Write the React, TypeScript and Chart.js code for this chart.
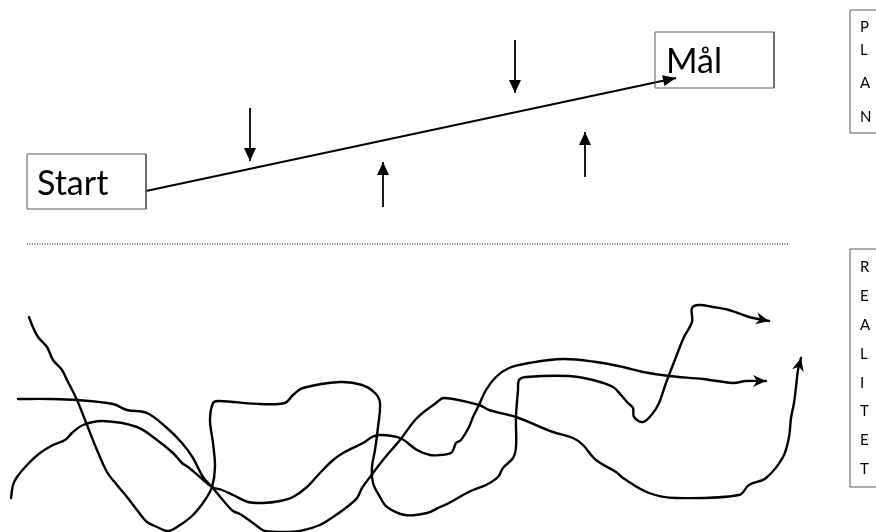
import React, { useEffect, useRef } from "react";
import { Chart, registerables } from "chart.js";

Chart.register(...registerables);

const W = 876;
const H = 532;

// ---- data (diagram coordinates in a 876 x 532 space, y downward) ----
const planLine = [[146, 191], [676, 78]];
const arrowDown1 = [[250, 108], [250, 161]];
const arrowUp1 = [[383, 207], [383, 162]];
const arrowDown2 = [[515, 40], [515, 93]];
const arrowUp2 = [[585, 177], [585, 132]];

const dividerLine = [[27, 244], [789, 244]];

const boxStart = [[27, 154], [146, 154], [146, 209], [27, 209], [27, 154]];
const boxGoal = [[655, 32], [774, 32], [774, 88], [655, 88], [655, 32]];
const boxPlan = [[850, 10], [880, 10], [880, 133], [850, 133], [850, 10]];
const boxReality = [[850, 249], [880, 249], [880, 487], [850, 487], [850, 249]];

const curveA = [
  [29, 317], [32, 325], [38, 337], [47, 347], [53, 360], [62, 370], [67, 380], [77, 400],
  [87, 425], [97, 450], [107, 472], [117, 485], [127, 497], [137, 510], [147, 522], [157, 527],
  [168, 531], [180, 525], [193, 515], [205, 500], [212, 487], [215, 467], [213, 443], [210, 420],
  [213, 403], [218, 401], [233, 402], [260, 404], [285, 403], [293, 395], [303, 388], [340, 382],
  [362, 385], [375, 393], [380, 403], [378, 427], [375, 450], [372, 467], [373, 483], [380, 497],
  [387, 507], [405, 515], [427, 513], [440, 507], [449, 503], [463, 495], [473, 490], [486, 485],
  [498, 477], [503, 468], [513, 458], [516, 447], [516, 417], [518, 390], [519, 380], [526, 377],
  [569, 376], [593, 380], [613, 387], [621, 395], [628, 403], [633, 408], [634, 417], [643, 422],
  [653, 413], [659, 403], [666, 383], [676, 357], [684, 337], [692, 322], [692, 308], [699, 305],
  [713, 307], [729, 310], [749, 317], [769, 321],
];

const curveB = [
  [18, 399], [50, 399], [77, 400], [113, 404], [127, 410], [147, 413], [167, 428], [182, 443],
  [193, 458], [203, 477], [212, 487], [222, 499], [233, 511], [240, 514], [253, 523], [265, 531],
  [283, 532], [300, 531], [320, 525], [333, 517], [347, 507], [357, 498], [362, 488], [370, 477],
  [383, 460], [400, 440], [417, 418], [436, 403], [444, 398], [479, 405], [489, 410], [516, 417],
  [553, 432], [573, 438], [583, 445], [596, 460], [616, 472], [623, 478], [649, 493], [676, 498],
  [739, 495], [749, 485], [766, 478], [783, 457], [789, 437], [791, 418], [794, 403], [796, 387],
  [798, 370], [801, 358],
];

const curveC = [
  [11, 498], [13, 485], [17, 477], [27, 465], [40, 453], [53, 445], [65, 440], [72, 433],
  [83, 425], [103, 421], [137, 427], [157, 440], [173, 453], [182, 463], [188, 467], [200, 477],
  [212, 487], [222, 490], [233, 495], [248, 502], [263, 503], [280, 501], [293, 497], [307, 487],
  [320, 473], [332, 461], [343, 453], [363, 443], [372, 437], [380, 435], [400, 438], [417, 450],
  [430, 455], [440, 455], [451, 453], [454, 448], [456, 443], [461, 440], [469, 427], [473, 417],
  [478, 407], [486, 390], [496, 377], [509, 368], [529, 363], [563, 359], [596, 362], [623, 367],
  [643, 372], [669, 376], [703, 379], [733, 383], [746, 381], [766, 381],
];

const bigLabels = ["Start", "Mål"];
const bigLabelPos = [[37, 195], [666, 73]];
const planLetters = ["P", "L", "A", "N"];
const planLetterY = [32, 55, 88, 122];
const realityLetters = ["R", "E", "A", "L", "I", "T", "E", "T"];
const realityLetterY = [272, 301, 330, 359, 388, 416, 445, 474];
const sideLetterX = 860;

const toPts = (a: number[][]) => a.map(([x, y]) => ({ x, y }));

const arrowPlugin = {
  id: "arrowHeads",
  afterDatasetsDraw(chart: any) {
    const ctx = chart.ctx;
    chart.data.datasets.forEach((ds: any, i: number) => {
      if (!ds.arrow) return;
      const meta = chart.getDatasetMeta(i);
      const n = meta.data.length;
      if (n < 2) return;
      const p1 = meta.data[n - 2];
      const p2 = meta.data[n - 1];
      const ang = Math.atan2(p2.y - p1.y, p2.x - p1.x);
      const { len, half, notch } = ds.arrow;
      ctx.save();
      ctx.translate(p2.x, p2.y);
      ctx.rotate(ang);
      ctx.beginPath();
      ctx.moveTo(0, 0);
      ctx.lineTo(-len, -half);
      ctx.lineTo(-len + notch, 0);
      ctx.lineTo(-len, half);
      ctx.closePath();
      ctx.fillStyle = "#000";
      ctx.fill();
      ctx.restore();
    });
  },
};

const textPlugin = {
  id: "diagramText",
  afterDatasetsDraw(chart: any) {
    const ctx = chart.ctx;
    const sx = chart.scales.x;
    const sy = chart.scales.y;
    ctx.save();
    ctx.fillStyle = "#000";
    ctx.textBaseline = "alphabetic";
    ctx.textAlign = "left";
    ctx.font = "34px Lato";
    bigLabels.forEach((t, i) => {
      ctx.fillText(t, sx.getPixelForValue(bigLabelPos[i][0]), sy.getPixelForValue(bigLabelPos[i][1]));
    });
    ctx.font = "15px Lato";
    planLetters.forEach((t, i) => {
      ctx.fillText(t, sx.getPixelForValue(sideLetterX), sy.getPixelForValue(planLetterY[i]));
    });
    realityLetters.forEach((t, i) => {
      ctx.fillText(t, sx.getPixelForValue(sideLetterX), sy.getPixelForValue(realityLetterY[i]));
    });
    ctx.restore();
  },
};

export default function App() {
  const ref = useRef<HTMLCanvasElement>(null);

  useEffect(() => {
    if (!ref.current) return;
    const curve = (d: number[][]) => ({
      data: toPts(d),
      showLine: true,
      borderColor: "#000",
      borderWidth: 2.4,
      tension: 0.35,
      pointRadius: 0,
      borderCapStyle: "round",
      borderJoinStyle: "round",
      arrow: { len: 13, half: 6, notch: 4 },
    });
    const straight = (d: number[][], width: number, arrow: any) => ({
      data: toPts(d),
      showLine: true,
      borderColor: "#000",
      borderWidth: width,
      tension: 0,
      pointRadius: 0,
      arrow,
    });
    const box = (d: number[][]) => ({
      data: toPts(d),
      showLine: true,
      borderColor: "#595959",
      borderWidth: 1,
      tension: 0,
      pointRadius: 0,
    });
    const vArrow = { len: 13, half: 6, notch: 0 };

    const chart = new Chart(ref.current, {
      type: "scatter",
      data: {
        datasets: [
          box(boxStart),
          box(boxGoal),
          box(boxPlan),
          box(boxReality),
          straight(planLine, 1.8, { len: 13, half: 5.5, notch: 0 }),
          straight(arrowDown1, 1.8, vArrow),
          straight(arrowUp1, 1.8, vArrow),
          straight(arrowDown2, 1.8, vArrow),
          straight(arrowUp2, 1.8, vArrow),
          { ...straight(dividerLine, 1, null), borderDash: [1, 1.5], borderColor: "#000" },
          curve(curveA),
          curve(curveB),
          curve(curveC),
        ] as any,
      },
      options: {
        animation: false,
        responsive: false,
        events: [],
        layout: { padding: 0 },
        scales: {
          x: { type: "linear", min: 0, max: W, display: false },
          y: { type: "linear", min: 0, max: H, reverse: true, display: false },
        },
        plugins: {
          legend: { display: false },
          tooltip: { enabled: false },
        },
      },
      plugins: [arrowPlugin, textPlugin],
    });
    return () => chart.destroy();
  }, []);

  return (
    <div style={{ position: "fixed", left: 0, top: 0, width: W, height: H, background: "#fff" }}>
      <canvas ref={ref} width={W} height={H} style={{ display: "block" }} />
    </div>
  );
}
